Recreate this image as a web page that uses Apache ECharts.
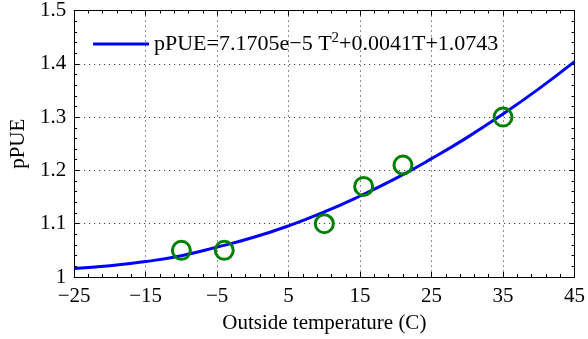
<!DOCTYPE html>
<html>
<head>
<meta charset="utf-8">
<script src="https://cdn.jsdelivr.net/npm/echarts@6/dist/echarts.min.js"></script>
<style>
  html, body {margin: 0; padding: 0; background: #fff;}
  #chart {width: 588px; height: 339px;}
</style>
</head>
<body>
<div id="chart"></div>
<script>
// fitted curve
const fitT = [-25, -20, -15, -10, -5, 0, 5, 10, 15, 20, 25, 30, 35, 40, 45];
const fitP = [1.016, 1.021, 1.029, 1.040, 1.056, 1.074, 1.096, 1.122, 1.152, 1.185, 1.222, 1.262, 1.306, 1.353, 1.404];
// measured points
const measT = [-10, -4, 10, 15.5, 21, 35];
const measP = [1.05, 1.05, 1.10, 1.17, 1.21, 1.30];

const font = 'Liberation Serif';
const fs = 21;
const chart = echarts.init(document.getElementById('chart'));

const boxAxis = {
  axisLine: {show: true, onZero: false, lineStyle: {color: '#000', width: 1}},
  axisTick: {show: true, inside: true, length: 5, lineStyle: {color: '#000'}},
  minorTick: {show: true, splitNumber: 5, length: 3, lineStyle: {color: '#000'}},
};

chart.setOption({
  animation: false,
  grid: {left: 72, right: 11, top: 10, bottom: 62},
  legend: {
    left: 93, top: 31, padding: 0,
    itemWidth: 56, itemHeight: 21, itemGap: 6,
    data: [{name: 'fit', icon: 'path://M0,0 L56,0 L56,3 L0,3 Z'}],
    formatter: () => 'pPUE=7.1705e\u22125 T{sup|2}+0.0041T+1.0743',
    textStyle: {
      fontFamily: font, fontSize: 22, color: '#000',
      rich: {sup: {fontFamily: font, fontSize: 15, color: '#000', padding: [0, 0, 11, 0]}}
    },
    itemStyle: {color: '#0000ff'}
  },
  xAxis: [{
    type: 'value', min: -25, max: 45, interval: 10,
    name: 'Outside temperature (C)', nameLocation: 'middle', nameGap: 36,
    nameTextStyle: {fontFamily: font, fontSize: fs, color: '#000'},
    ...boxAxis,
    axisLabel: {fontFamily: font, fontSize: fs, color: '#000', margin: 9,
      formatter: v => String(v).replace('-', '\u2212')},
    splitLine: {show: true, lineStyle: {color: '#222', type: [1, 4], width: 1}}
  }, {
    type: 'value', min: -25, max: 45, interval: 10, position: 'top',
    ...boxAxis, axisLabel: {show: false}, splitLine: {show: false}
  }],
  yAxis: [{
    type: 'value', min: 1, max: 1.5, interval: 0.1,
    name: 'pPUE', nameLocation: 'middle', nameGap: 44,
    nameTextStyle: {fontFamily: font, fontSize: fs, color: '#000'},
    ...boxAxis,
    axisLabel: {fontFamily: font, fontSize: fs, color: '#000', margin: 8,
      formatter: v => String(Math.round(v * 10) / 10)},
    splitLine: {show: true, lineStyle: {color: '#222', type: [1, 4], width: 1}}
  }, {
    type: 'value', min: 1, max: 1.5, interval: 0.1, position: 'right',
    ...boxAxis, axisLabel: {show: false}, splitLine: {show: false}
  }],
  series: [{
    name: 'fit', type: 'line', smooth: true, showSymbol: false,
    data: fitT.map((t, i) => [t, fitP[i]]),
    lineStyle: {color: '#0000ff', width: 3},
    itemStyle: {color: '#0000ff'},
    z: 3
  }, {
    name: 'data', type: 'scatter',
    data: measT.map((t, i) => [t, measP[i]]),
    symbol: 'circle', symbolSize: 18,
    itemStyle: {color: 'rgba(0,0,0,0)', borderColor: '#008000', borderWidth: 3, opacity: 1},
    z: 4
  }]
});
</script>
</body>
</html>
